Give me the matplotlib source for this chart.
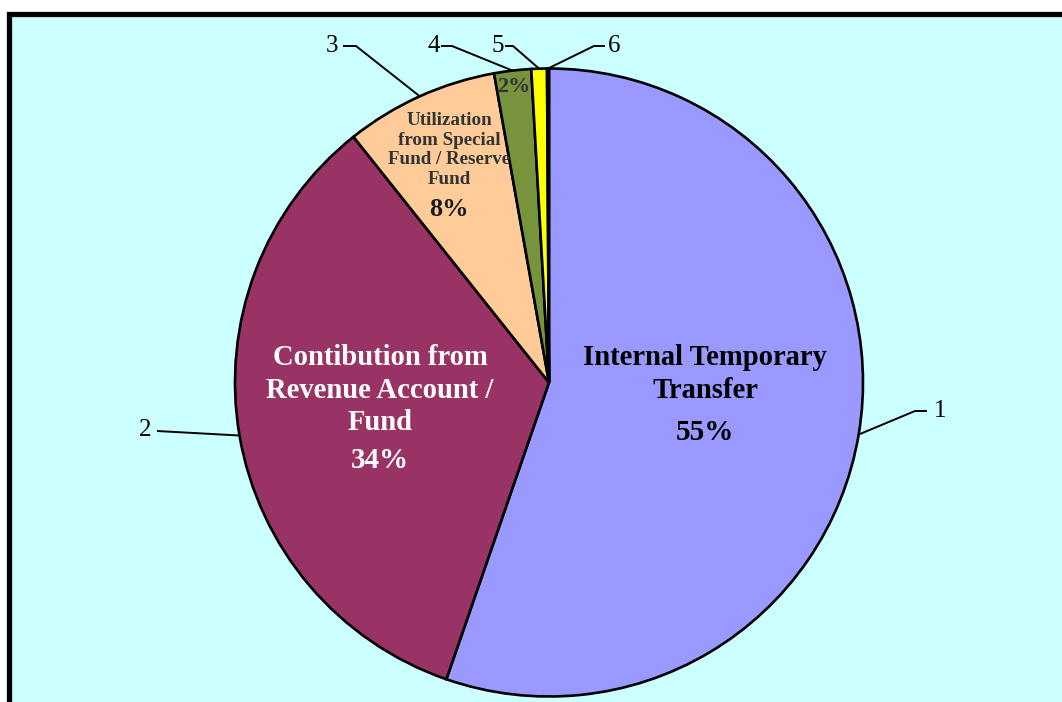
import numpy as np
import matplotlib.pyplot as plt
from matplotlib.patches import Rectangle

W, H = 1062, 702

# slice data (percent of total), clockwise from 12 o'clock
shares = [55.3, 34.0, 7.9, 1.9, 0.8, 0.1]
names = ["Internal Temporary\nTransfer",
         "Contibution from\nRevenue Account /\nFund",
         "Utilization\nfrom Special\nFund / Reserve\nFund",
         "", "", ""]
numbers = ["1", "2", "3", "4", "5", "6"]
colors = ["#9999FF", "#993366", "#FFCC99", "#77933C", "#FFFF00", "#CCFFFF"]

plt.rcParams['font.family'] = ['Liberation Serif', 'DejaVu Serif']

fig = plt.figure(figsize=(W / 100, H / 100), dpi=100)
fig.patch.set_facecolor("white")
ax = fig.add_axes([0, 0, 1, 1])

def Y(y):
    # pixel row -> data y
    return H - y

# background panel with thick frame (cropped on right/bottom)
ax.add_patch(Rectangle((8.5, -20), W + 50, Y(14) + 20, facecolor="#CCFFFF",
                       edgecolor="black", linewidth=3.8, zorder=0))

cx, cy, r = 549, Y(382.5), 314
ax.pie(shares, colors=colors, startangle=90, counterclock=False,
       center=(cx, cy), radius=r, frame=True,
       wedgeprops=dict(edgecolor="black", linewidth=1.9))
ax.set_xlim(0, W)
ax.set_ylim(0, H)
ax.set_aspect("equal")
ax.axis("off")

# mid-angle anchor points on the rim
cum = np.cumsum(shares)
mids = (cum - np.array(shares) / 2) / 100 * 360  # degrees clockwise from top
ax_pts = [(cx + r * np.sin(np.radians(m)), cy + r * np.cos(np.radians(m))) for m in mids]

# leader line layout: (elbow, end, text x, text y, ha)
leaders = [
    ((915, 411), (927, 411), 934, 411, "left"),
    ((157, 431), (157, 431), 151, 430, "right"),
    ((356, 46), (343, 46), 338, 46, "right"),
    ((452, 46), (441, 46), 440, 46, "right"),
    ((513, 46), (505, 46), 504, 46, "right"),
    ((594, 46), (605, 46), 608, 46, "left"),
]
for (px, py), (el, en, tx, ty, ha), num in zip(ax_pts, leaders, numbers):
    ax.plot([px, el[0], en[0]], [py, Y(el[1]), Y(en[1])], color="black", lw=1.4,
            solid_capstyle="butt", zorder=5)
    ax.text(tx, Y(ty), num, ha=ha, va="center", fontsize=18, color="black")

# in-slice labels
pct = [f"{round(s):.0f}%" for s in shares]
ax.text(705, Y(374), names[0], ha="center", va="center", fontsize=20.6,
        fontweight="bold", color="black", linespacing=1.27)
ax.text(705, Y(433), pct[0], ha="center", va="center", fontsize=21,
        fontweight="bold", color="black")

ax.text(380, Y(390), names[1], ha="center", va="center", fontsize=20.6,
        fontweight="bold", color="white", linespacing=1.27)
ax.text(380, Y(460), pct[1], ha="center", va="center", fontsize=21,
        fontweight="bold", color="white")

ax.text(449, Y(150), names[2], ha="center", va="center", fontsize=13.7,
        fontweight="bold", color="#333333", linespacing=1.23)
ax.text(449, Y(210), pct[2], ha="center", va="center", fontsize=19,
        fontweight="bold", color="#1a1a1a")

ax.text(514, Y(87), pct[3], ha="center", va="center", fontsize=16,
        fontweight="bold", color="#333333")

fig.savefig("out.png", dpi=100, facecolor=fig.get_facecolor())
